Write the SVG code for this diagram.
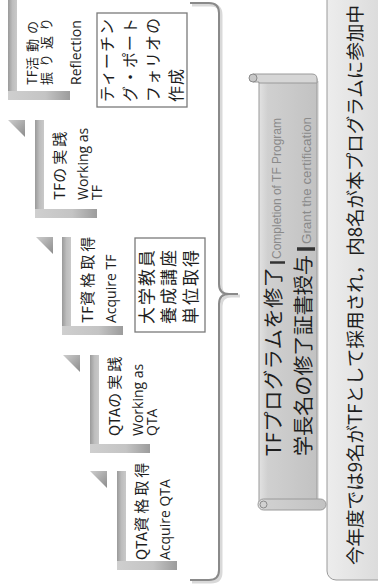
<svg xmlns="http://www.w3.org/2000/svg" width="378" height="587" viewBox="0 0 378 587">
<defs>
<linearGradient id="gV" x1="0" y1="0" x2="1" y2="0"><stop offset="0" stop-color="#9a9a9a"/><stop offset="0.5" stop-color="#bdbdbd"/><stop offset="1" stop-color="#c9c9c9"/></linearGradient>
<linearGradient id="gH" x1="0" y1="0" x2="1" y2="0"><stop offset="0" stop-color="#cfcfcf"/><stop offset="0.6" stop-color="#c4c4c4"/><stop offset="1" stop-color="#9c9c9c"/></linearGradient>
<linearGradient id="gT" x1="0" y1="0" x2="1" y2="1"><stop offset="0" stop-color="#cdcdcd"/><stop offset="1" stop-color="#8c8c8c"/></linearGradient>
<linearGradient id="gS" x1="0" y1="0" x2="1" y2="0"><stop offset="0" stop-color="#e2e2e2"/><stop offset="0.15" stop-color="#d0d0d0"/><stop offset="1" stop-color="#c2c2c2"/></linearGradient>
<linearGradient id="gB" x1="0" y1="0" x2="1" y2="0"><stop offset="0" stop-color="#ededed"/><stop offset="1" stop-color="#d6d6d6"/></linearGradient>
</defs>
<style>
.vb{fill:url(#gV)}
.hb{fill:url(#gH)}
.tri{fill:url(#gT)}
.box{fill:#fff;stroke:#7a7a7a;stroke-width:1.3}
.jp{font-family:"Noto Sans CJK JP","Noto Sans",sans-serif;fill:#1e1e1e}
.en{font-family:"Open Sans","Noto Sans",sans-serif;fill:#1e1e1e}
.ti{font-size:15px}
.ti .c{letter-spacing:3px}
.t5{font-size:13px}
.t5 .c{letter-spacing:5px}
.el{font-size:14px}
.bx{font-size:16px;letter-spacing:1px}
.bx2{font-size:17px;letter-spacing:2px}
.sc{font-size:20px}
.nt{font-size:18.5px}
.gr{font-family:"Liberation Sans",Arial,sans-serif;font-size:13px;fill:#8a8a8a}
.br{fill:none;stroke:#8a8a8a;stroke-width:2}
.brs{fill:none;stroke:#d9d9d9;stroke-width:3}
</style>

<g id="connectors">
<path class="brs" transform="translate(2,2)" d="M190,3 L209,3 Q219,3 219,13 L219,284 Q219,294 229,294 L238,294 M229,294 Q219,294 219,304 L219,570 Q219,580 209,580 L190,580"/>
<path class="br" d="M190,3 L209,3 Q219,3 219,13 L219,284 Q219,294 229,294 L238,294 M229,294 Q219,294 219,304 L219,570 Q219,580 209,580 L190,580"/>
</g>

<g id="step1">
<polygon class="tri" points="90,471 107,471 107,488"/>
<rect class="vb" x="117" y="471" width="9" height="99"/>
<rect class="hb" x="117" y="561" width="60" height="9"/>
</g>
<g id="step2">
<polygon class="tri" points="63,355 80,355 80,372"/>
<rect class="vb" x="90" y="355" width="9" height="98"/>
<rect class="hb" x="90" y="444" width="60" height="9"/>
</g>
<g id="step3">
<polygon class="tri" points="36,237 53,237 53,254"/>
<rect class="vb" x="62" y="237" width="9" height="98"/>
<rect class="hb" x="62" y="326" width="61" height="9"/>
<rect id="box-course" class="box" x="135" y="238" width="70" height="94"/>
</g>
<g id="step4">
<polygon class="tri" points="8,120 25,120 25,137"/>
<rect class="vb" x="35" y="120" width="9" height="98"/>
<rect class="hb" x="35" y="209" width="62" height="9"/>
</g>
<g id="step5">
<rect class="vb" x="8" y="-5" width="9" height="105"/>
<rect class="hb" x="8" y="91" width="62" height="9"/>
<rect id="box-portfolio" class="box" x="97" y="13" width="90" height="94"/>
</g>

<g id="scroll">
<rect x="261" y="81" width="58" height="423" fill="#e4e4e4"/>
<rect x="259" y="79" width="58" height="423" fill="url(#gS)" stroke="#9a9a9a" stroke-width="1"/>
<path d="M253,74 L312,74 Q317,74 317,79 L317,83 L259,83 L259,82 L253,82 Z" fill="#d6d6d6" stroke="#9a9a9a" stroke-width="1"/>
<circle cx="253" cy="78" r="4" fill="#c8c8c8" stroke="#8a8a8a" stroke-width="1"/>
<rect x="258" y="499" width="68" height="11" rx="5.5" fill="url(#gS)" stroke="#9a9a9a" stroke-width="1"/>
<circle cx="263.5" cy="504.5" r="3.5" fill="#d2d2d2" stroke="#8a8a8a" stroke-width="1"/>
</g>

<g id="note">
<rect x="327" y="-20" width="70" height="600" rx="9" fill="url(#gB)" stroke="#9a9a9a" stroke-width="1"/>
</g>

<g id="texts" transform="translate(0,587) rotate(-90)">
<text class="jp ti" x="27" y="147">QTA<tspan class="c">資格取得</tspan></text>
<text class="en el" x="27" y="170">Acquire QTA</text>

<text class="jp ti" x="151" y="120">QTA<tspan class="c">の実践</tspan></text>
<text class="en el" x="151" y="143">Working as</text>
<text class="en el" x="151" y="157">QTA</text>

<text class="jp ti" x="264" y="93">TF<tspan class="c">資格取得</tspan></text>
<text class="en el" x="264" y="116">Acquire TF</text>
<text class="jp bx2" x="263" y="153">大学教員</text>
<text class="jp bx2" x="263" y="175">養成講座</text>
<text class="jp bx2" x="263" y="197">単位取得</text>

<text class="jp ti" x="387" y="65">TF<tspan class="c">の実践</tspan></text>
<text class="en el" x="387" y="88">Working as</text>
<text class="en el" x="387" y="102">TF</text>

<text class="jp t5" x="502" y="37">TF<tspan class="c">活動の</tspan></text>
<text class="jp t5" x="502" y="51"><tspan class="c">振り返り</tspan></text>
<text class="en el" x="502" y="81">Reflection</text>
<text class="jp bx" x="485" y="113">ティーチン</text>
<text class="jp bx" x="485" y="136">グ・ポート</text>
<text class="jp bx" x="485" y="159">フォリオの</text>
<text class="jp bx" x="485" y="182">作成</text>

<text class="jp sc" x="131" y="281" textLength="189" lengthAdjust="spacing">TFプログラムを修了</text>
<line x1="324.5" y1="270" x2="324.5" y2="285" stroke="#333" stroke-width="2.5"/>
<text class="gr" x="328" y="281" textLength="141" lengthAdjust="spacingAndGlyphs">Completion of TF Program</text>
<text class="jp sc" x="131" y="311" textLength="201" lengthAdjust="spacing">学長名の修了証書授与</text>
<line x1="338" y1="297" x2="338" y2="315" stroke="#333" stroke-width="3.5"/>
<text class="gr" x="343" y="311" textLength="127" lengthAdjust="spacingAndGlyphs">Grant the certification</text>

<text class="jp nt" x="22" y="362" textLength="560" lengthAdjust="spacing">今年度では9名がTFとして採用され，内8名が本プログラムに参加中</text>
</g>
</svg>
